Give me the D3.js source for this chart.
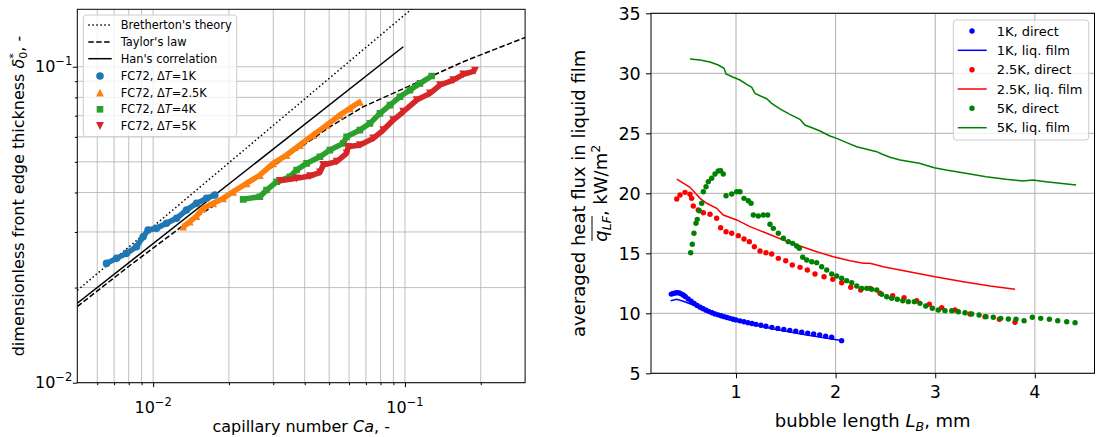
<!DOCTYPE html>
<html>
<head>
<meta charset="utf-8">
<script src="https://cdn.jsdelivr.net/npm/d3@7"></script>
<style>
  body { margin: 0; background: #fff; }
  svg { display: block; font-family: 'DejaVu Sans', sans-serif; }
</style>
</head>
<body>
<svg id="chart" width="1096" height="437"></svg>
<script>
/* global d3 */

// ---- left panel: front edge thickness vs capillary number ----
const leftMajor = [0.01, 0.1];
const leftExp = ['−2', '−1'];
const leftXMinor = [0.006, 0.007, 0.008, 0.009, 0.02, 0.03, 0.04, 0.05, 0.06, 0.07, 0.08, 0.09, 0.2];
const leftYMinor = [0.02, 0.03, 0.04, 0.05, 0.06, 0.07, 0.08, 0.09];

const breCa = [0.005, 0.107];
const breDelta = [0.0196, 0.153];
const taylorCa = [0.005, 0.00808, 0.01277, 0.02017, 0.02735, 0.03713, 0.05035, 0.06829, 0.09268, 0.1257, 0.1704, 0.2614, 0.3];
const taylorDelta = [0.01742, 0.02349, 0.03088, 0.03926, 0.04600, 0.05449, 0.06457, 0.07470, 0.08334, 0.09298, 0.1037, 0.1186, 0.1237];
const hanCa = [0.005, 0.0985];
const hanDelta = [0.01784, 0.1157];

const ca1 = [0.00653, 0.00716, 0.00784, 0.00859, 0.00913, 0.00955, 0.01032, 0.01130, 0.01239, 0.01357, 0.01487, 0.01630, 0.01758];
const d1 = [0.02386, 0.02475, 0.02567, 0.02694, 0.02897, 0.03042, 0.03081, 0.03195, 0.03314, 0.03520, 0.03695, 0.03832, 0.03926];
const ca25 = [0.01316, 0.01399, 0.01487, 0.01580, 0.01732, 0.01897, 0.02079, 0.02350, 0.02654, 0.02998, 0.03388, 0.03827, 0.04323, 0.04887, 0.05518, 0.06047, 0.06626];
const d25 = [0.03117, 0.03233, 0.03370, 0.03564, 0.03696, 0.03833, 0.04022, 0.04276, 0.04543, 0.04946, 0.05255, 0.05651, 0.06079, 0.06537, 0.07033, 0.07386, 0.07747];
const ca4 = [0.02278, 0.02654, 0.02821, 0.03092, 0.03493, 0.03713, 0.04070, 0.04597, 0.05035, 0.05686, 0.05866, 0.06626, 0.07260, 0.07956, 0.08718, 0.09552, 0.1047, 0.1147, 0.1277];
const d4 = [0.03805, 0.03878, 0.04072, 0.04325, 0.04486, 0.04711, 0.04946, 0.05189, 0.05449, 0.05721, 0.06003, 0.06304, 0.06621, 0.07120, 0.07562, 0.08036, 0.08437, 0.08860, 0.09346];
const ca5 = [0.03186, 0.03713, 0.04195, 0.04597, 0.04738, 0.05355, 0.05866, 0.05952, 0.06626, 0.07484, 0.08201, 0.08985, 0.09844, 0.1113, 0.1257, 0.1378, 0.1556, 0.1704, 0.1897];
const d5 = [0.04356, 0.04433, 0.04508, 0.04632, 0.04887, 0.05006, 0.05320, 0.05580, 0.05651, 0.05934, 0.06304, 0.06782, 0.07203, 0.07844, 0.08236, 0.08752, 0.09076, 0.09461, 0.09712];

const leftLabels = ["Bretherton's theory", "Taylor's law", "Han's correlation"];
const leftTemps = ['1K', '2.5K', '4K', '5K'];

// ---- right panel: averaged heat flux vs bubble length ----
const rightXTicks = [1, 2, 3, 4];
const rightYTicks = [5, 10, 15, 20, 25, 30, 35];

const lb1Direct = [0.35, 0.37, 0.39, 0.41, 0.43, 0.45, 0.47, 0.49, 0.52, 0.55, 0.58, 0.61, 0.64, 0.67, 0.70, 0.73, 0.76, 0.79, 0.82, 0.85, 0.88, 0.91, 0.94, 0.97, 1.00, 1.04, 1.08, 1.12, 1.16, 1.20, 1.25, 1.30, 1.36, 1.42, 1.48, 1.54, 1.60, 1.66, 1.72, 1.78, 1.84, 1.90, 1.96, 2.06];
const q1Direct = [11.6, 11.65, 11.7, 11.72, 11.7, 11.62, 11.52, 11.4, 11.2, 11.0, 10.82, 10.65, 10.5, 10.38, 10.26, 10.14, 10.04, 9.95, 9.87, 9.79, 9.72, 9.65, 9.58, 9.51, 9.45, 9.37, 9.3, 9.22, 9.15, 9.08, 9.0, 8.92, 8.83, 8.74, 8.66, 8.58, 8.5, 8.43, 8.35, 8.28, 8.2, 8.1, 8.0, 7.72];
const lb1Film = [0.344, 0.405, 0.471, 0.571, 0.706, 0.839, 1.040, 1.375, 1.710, 2.057];
const q1Film = [11.05, 11.17, 11.01, 10.69, 10.23, 9.78, 9.32, 8.69, 8.19, 7.73];

const lb25Direct = [0.405, 0.438, 0.488, 0.538, 0.555, 0.571, 0.621, 0.672, 0.739, 0.806, 0.846, 0.900, 0.957, 1.023, 1.080, 1.134, 1.184, 1.241, 1.301, 1.358, 1.425, 1.499, 1.565, 1.643, 1.716, 1.793, 1.884, 1.971, 2.061, 2.152, 2.252, 2.345, 2.446, 2.573, 2.687, 2.814, 2.941, 3.065, 3.199, 3.349, 3.500, 3.644, 3.801];
const q25Direct = [19.53, 19.86, 20.08, 19.92, 19.58, 18.94, 18.61, 18.38, 18.25, 17.92, 17.13, 16.80, 16.67, 16.47, 16.19, 15.97, 15.55, 15.19, 15.05, 14.94, 14.58, 14.38, 14.03, 13.83, 13.61, 13.27, 13.05, 12.83, 12.55, 12.17, 11.94, 12.08, 11.67, 11.47, 11.30, 11.05, 10.75, 10.47, 10.28, 9.94, 9.72, 9.50, 9.25];
const lb25Film = [0.405, 0.538, 0.639, 0.706, 0.806, 0.872, 1.007, 1.141, 1.308, 1.475, 1.643, 1.810, 1.977, 2.145, 2.278, 2.345, 2.479, 2.646, 2.998, 3.282, 3.550, 3.801];
const q25Film = [21.19, 20.50, 19.58, 19.17, 18.75, 18.19, 17.78, 17.22, 16.67, 16.11, 15.61, 15.13, 14.72, 14.38, 14.17, 14.17, 13.88, 13.61, 13.05, 12.63, 12.28, 12.00];

const lb5Direct = [0.545, 0.561, 0.578, 0.598, 0.611, 0.632, 0.656, 0.672, 0.699, 0.722, 0.756, 0.789, 0.822, 0.846, 0.872, 0.900, 0.957, 1.007, 1.040, 1.080, 1.123, 1.151, 1.174, 1.224, 1.274, 1.318, 1.341, 1.375, 1.425, 1.475, 1.525, 1.569, 1.609, 1.636, 1.670, 1.710, 1.760, 1.810, 1.860, 1.911, 1.961, 2.011, 2.061, 2.111, 2.162, 2.212, 2.262, 2.312, 2.362, 2.413, 2.463, 2.513, 2.563, 2.619, 2.674, 2.730, 2.790, 2.847, 2.905, 2.971, 3.031, 3.098, 3.166, 3.232, 3.299, 3.366, 3.440, 3.510, 3.583, 3.658, 3.734, 3.811, 3.892, 3.975, 4.059, 4.146, 4.230, 4.320, 4.404];
const q5Direct = [15.05, 15.75, 16.67, 17.50, 17.83, 18.55, 19.17, 20.13, 20.55, 20.97, 21.25, 21.61, 21.86, 21.88, 21.61, 19.80, 19.94, 20.13, 20.13, 19.58, 19.38, 19.17, 18.19, 18.11, 18.19, 18.19, 17.42, 17.08, 16.67, 16.25, 15.97, 15.83, 15.61, 15.42, 14.67, 14.44, 14.30, 14.22, 13.88, 13.61, 13.27, 13.11, 12.92, 12.72, 12.55, 12.28, 12.08, 12.08, 12.00, 11.94, 11.58, 11.38, 11.25, 11.17, 11.05, 10.97, 10.97, 10.83, 10.61, 10.42, 10.28, 10.22, 10.22, 10.13, 10.05, 9.94, 9.86, 9.72, 9.67, 9.58, 9.53, 9.50, 9.38, 9.67, 9.58, 9.50, 9.38, 9.30, 9.22];
const lb5Film = [0.538, 0.639, 0.739, 0.822, 0.880, 0.900, 0.973, 1.040, 1.107, 1.158, 1.191, 1.241, 1.308, 1.358, 1.441, 1.541, 1.642, 1.692, 1.776, 1.843, 1.943, 2.011, 2.111, 2.212, 2.312, 2.413, 2.463, 2.546, 2.647, 2.840, 2.991, 3.108, 3.276, 3.510, 3.711, 3.879, 3.979, 4.112, 4.414];
const q5Film = [31.19, 31.11, 30.94, 30.69, 30.42, 29.94, 29.67, 29.44, 29.08, 28.83, 28.33, 28.13, 27.88, 27.50, 27.03, 26.58, 26.17, 25.69, 25.42, 25.19, 24.78, 24.58, 24.22, 23.88, 23.67, 23.47, 23.28, 23.00, 22.78, 22.50, 22.13, 21.94, 21.72, 21.38, 21.17, 21.03, 21.11, 20.97, 20.69];

const rightLabels = ['1K, direct', '1K, liq. film', '2.5K, direct', '2.5K, liq. film', '5K, direct', '5K, liq. film'];

const zip = (a, b) => a.map((v, i) => [v, b[i]]);
const svg = d3.select('#chart');
const gridColor = '#b0b0b0';

// draws one matplotlib style marker as a path string
const markerPath = (m, cx, cy, r) => {
  if (m === '^') return `M${cx},${cy - r}L${cx + r},${cy + r}L${cx - r},${cy + r}Z`;
  if (m === 'v') return `M${cx},${cy + r}L${cx + r},${cy - r}L${cx - r},${cy - r}Z`;
  if (m === 's') {
    const h = r * 0.85;
    return `M${cx - h},${cy - h}h${2 * h}v${2 * h}h${-2 * h}Z`;
  }
  return `M${cx - r},${cy}a${r},${r} 0 1,0 ${2 * r},0a${r},${r} 0 1,0 ${-2 * r},0`;
};

/* +++ left panel +++ */
const L = { left: 77.3, right: 525.1, top: 9.3, bottom: 382.7 };
const xL = d3.scaleLog().domain([0.005, 0.3]).range([L.left, L.right]);
const yL = d3.scaleLog().domain([0.01, 0.152]).range([L.bottom, L.top]);

svg.append('clipPath').attr('id', 'clipL').append('rect')
  .attr('x', L.left).attr('y', L.top)
  .attr('width', L.right - L.left).attr('height', L.bottom - L.top);

const gridL = svg.append('g').attr('stroke', gridColor).attr('stroke-width', 0.8);
gridL.selectAll('.vx').data(leftMajor.concat(leftXMinor)).enter().append('line')
  .attr('x1', d => xL(d)).attr('x2', d => xL(d))
  .attr('y1', L.top).attr('y2', L.bottom);
gridL.selectAll('.hy').data(leftMajor.concat(leftYMinor)).enter().append('line')
  .attr('y1', d => yL(d)).attr('y2', d => yL(d))
  .attr('x1', L.left).attr('x2', L.right);

const plotL = svg.append('g').attr('clip-path', 'url(#clipL)');
const lineL = d3.line().x(d => xL(d[0])).y(d => yL(d[1]));

const theory = [
  { data: zip(breCa, breDelta), dash: '1.5,2.5' },
  { data: zip(taylorCa, taylorDelta), dash: '5.5,2.4' },
  { data: zip(hanCa, hanDelta), dash: null },
];

const leftSeries = [
  { data: zip(ca1, d1), color: '#1f77b4', marker: 'o', r: 3.8 },
  { data: zip(ca25, d25), color: '#ff7f0e', marker: '^', r: 3.9 },
  { data: zip(ca4, d4), color: '#2ca02c', marker: 's', r: 3.9 },
  { data: zip(ca5, d5), color: '#d62728', marker: 'v', r: 3.9 },
];

theory.forEach((t) => {
  plotL.append('path')
    .attr('d', lineL(t.data))
    .attr('fill', 'none')
    .attr('stroke', '#000')
    .attr('stroke-width', 1.5)
    .attr('stroke-dasharray', t.dash);
});

leftSeries.forEach((s) => {
  plotL.append('path')
    .attr('d', lineL(s.data))
    .attr('fill', 'none')
    .attr('stroke', s.color)
    .attr('stroke-width', 5.5)
    .attr('stroke-linejoin', 'round');
  plotL.selectAll(null).data(s.data).enter().append('path')
    .attr('d', d => markerPath(s.marker, xL(d[0]), yL(d[1]), s.r))
    .attr('fill', s.color);
});

svg.append('rect')
  .attr('x', L.left).attr('y', L.top)
  .attr('width', L.right - L.left).attr('height', L.bottom - L.top)
  .attr('fill', 'none').attr('stroke', '#000').attr('stroke-width', 1);

// major and minor ticks
const tickAxis = (g, axis, values, size) => g.call(axis.tickValues(values).tickSize(size).tickFormat(''))
  .call(a => a.select('.domain').remove());

tickAxis(svg.append('g').attr('transform', `translate(0,${L.bottom})`), d3.axisBottom(xL), leftMajor, 4.5);
tickAxis(svg.append('g').attr('transform', `translate(0,${L.bottom})`), d3.axisBottom(xL), leftXMinor, 2.5);
tickAxis(svg.append('g').attr('transform', `translate(${L.left},0)`), d3.axisLeft(yL), leftMajor, 4.5);
tickAxis(svg.append('g').attr('transform', `translate(${L.left},0)`), d3.axisLeft(yL), leftYMinor, 2.5);

// power-of-ten labels
leftMajor.forEach((v, i) => {
  const tx = svg.append('text')
    .attr('x', xL(v)).attr('y', 413)
    .attr('text-anchor', 'middle').attr('font-size', 16);
  tx.append('tspan').text('10');
  tx.append('tspan').attr('dy', -7).attr('font-size', 11.5).text(leftExp[i]);

  const ty = svg.append('text')
    .attr('x', L.left - 5).attr('y', yL(v) + 5.5)
    .attr('text-anchor', 'end').attr('font-size', 16);
  ty.append('tspan').text('10');
  ty.append('tspan').attr('dy', -7).attr('font-size', 11.5).text(leftExp[i]);
});

const xlabL = svg.append('text')
  .attr('x', (L.left + L.right) / 2).attr('y', 432)
  .attr('text-anchor', 'middle').attr('font-size', 16);
xlabL.append('tspan').text('capillary number ');
xlabL.append('tspan').attr('font-style', 'italic').text('Ca');
xlabL.append('tspan').text(', -');

const ylabL = svg.append('text')
  .attr('transform', `translate(24,${(L.top + L.bottom) / 2}) rotate(-90)`)
  .attr('text-anchor', 'middle').attr('font-size', 16);
ylabL.append('tspan').text('dimensionless front edge thickness ');
ylabL.append('tspan').attr('font-style', 'italic').text('δ');
ylabL.append('tspan').attr('dy', -7).attr('font-size', 11).text('*');
ylabL.append('tspan').attr('dx', -5.5).attr('dy', 10).attr('font-size', 11).text('0');
ylabL.append('tspan').attr('dy', -3).text(', -');

// legend of left panel
const legL = svg.append('g');
legL.append('rect')
  .attr('x', 83.3).attr('y', 15).attr('width', 153.4).attr('height', 121.7)
  .attr('rx', 3).attr('fill', '#fff').attr('fill-opacity', 0.8)
  .attr('stroke', '#cccccc').attr('stroke-width', 1);

const legRowsL = [25, 42, 58.7, 76, 92.7, 109.3, 126];
theory.forEach((t, i) => {
  legL.append('line')
    .attr('x1', 88.3).attr('x2', 111.7)
    .attr('y1', legRowsL[i]).attr('y2', legRowsL[i])
    .attr('stroke', '#000').attr('stroke-width', 1.5)
    .attr('stroke-dasharray', t.dash);
  legL.append('text')
    .attr('x', 120.7).attr('y', legRowsL[i] + 4)
    .attr('font-size', 11.4).text(leftLabels[i]);
});
leftSeries.forEach((s, i) => {
  const yy = legRowsL[i + 3];
  legL.append('path').attr('d', markerPath(s.marker, 100, yy, s.r)).attr('fill', s.color);
  const t = legL.append('text').attr('x', 120.7).attr('y', yy + 4).attr('font-size', 11.4);
  t.append('tspan').text('FC72, Δ');
  t.append('tspan').attr('font-style', 'italic').text('T');
  t.append('tspan').text(`=${leftTemps[i]}`);
});
/* --- left panel --- */

/* +++ right panel +++ */
const R = { left: 651, right: 1094.5, top: 13.3, bottom: 373.3 };
const xR = d3.scaleLinear().domain([0.1466, 4.599]).range([R.left, R.right]);
const yR = d3.scaleLinear().domain([5, 35]).range([R.bottom, R.top]);

svg.append('clipPath').attr('id', 'clipR').append('rect')
  .attr('x', R.left).attr('y', R.top)
  .attr('width', R.right - R.left).attr('height', R.bottom - R.top);

const gridR = svg.append('g').attr('stroke', gridColor).attr('stroke-width', 1);
gridR.selectAll('.vx').data(rightXTicks).enter().append('line')
  .attr('x1', d => xR(d)).attr('x2', d => xR(d))
  .attr('y1', R.top).attr('y2', R.bottom);
gridR.selectAll('.hy').data(rightYTicks).enter().append('line')
  .attr('y1', d => yR(d)).attr('y2', d => yR(d))
  .attr('x1', R.left).attr('x2', R.right);

const plotR = svg.append('g').attr('clip-path', 'url(#clipR)');
const lineR = d3.line().x(d => xR(d[0])).y(d => yR(d[1]));

const rightSeries = [
  { data: zip(lb1Direct, q1Direct), color: '#0000ff', dots: true },
  { data: zip(lb1Film, q1Film), color: '#0000ff', dots: false },
  { data: zip(lb25Direct, q25Direct), color: '#ff0000', dots: true },
  { data: zip(lb25Film, q25Film), color: '#ff0000', dots: false },
  { data: zip(lb5Direct, q5Direct), color: '#008000', dots: true },
  { data: zip(lb5Film, q5Film), color: '#008000', dots: false },
];

rightSeries.forEach((s) => {
  if (s.dots) {
    plotR.selectAll(null).data(s.data).enter().append('circle')
      .attr('cx', d => xR(d[0])).attr('cy', d => yR(d[1]))
      .attr('r', 2.7).attr('fill', s.color);
  } else {
    plotR.append('path')
      .attr('d', lineR(s.data))
      .attr('fill', 'none').attr('stroke', s.color)
      .attr('stroke-width', 1.5);
  }
});

svg.append('rect')
  .attr('x', R.left).attr('y', R.top)
  .attr('width', R.right - R.left).attr('height', R.bottom - R.top)
  .attr('fill', 'none').attr('stroke', '#000').attr('stroke-width', 1);

tickAxis(svg.append('g').attr('transform', `translate(0,${R.bottom})`), d3.axisBottom(xR), rightXTicks, 5);
tickAxis(svg.append('g').attr('transform', `translate(${R.left},0)`), d3.axisLeft(yR), rightYTicks, 5);

svg.selectAll('.rxt').data(rightXTicks).enter().append('text')
  .attr('x', d => xR(d)).attr('y', 398)
  .attr('text-anchor', 'middle').attr('font-size', 17.5)
  .text(d => d);
svg.selectAll('.ryt').data(rightYTicks).enter().append('text')
  .attr('x', R.left - 10.3).attr('y', d => yR(d) + 6.3)
  .attr('text-anchor', 'end').attr('font-size', 17.5)
  .text(d => d);

const xlabR = svg.append('text')
  .attr('x', (R.left + R.right) / 2).attr('y', 427)
  .attr('text-anchor', 'middle').attr('font-size', 18);
xlabR.append('tspan').text('bubble length ');
xlabR.append('tspan').attr('font-style', 'italic').text('L');
xlabR.append('tspan').attr('font-style', 'italic').attr('font-size', 12.6).attr('dy', 4).text('B');
xlabR.append('tspan').attr('dy', -4).text(', mm');

const ylabR = svg.append('g')
  .attr('transform', `translate(607,${(R.top + R.bottom) / 2}) rotate(-90)`)
  .attr('font-size', 18);
ylabR.append('text').attr('y', -21.6).attr('text-anchor', 'middle')
  .text('averaged heat flux in liquid film');
const qLab = ylabR.append('text').attr('text-anchor', 'middle');
qLab.append('tspan').attr('font-style', 'italic').text('q');
qLab.append('tspan').attr('font-style', 'italic').attr('font-size', 12.6).attr('dy', 4).text('LF');
qLab.append('tspan').attr('dy', -4).text(', kW/m');
qLab.append('tspan').attr('dy', -7).attr('font-size', 12.6).text('2');
// overline across q and its subscript
const qStart = qLab.node().getExtentOfChar(0);
const qEnd = qLab.node().getExtentOfChar(2);
ylabR.append('line')
  .attr('x1', qStart.x + 1).attr('x2', qEnd.x + qEnd.width)
  .attr('y1', -15).attr('y2', -15)
  .attr('stroke', '#000').attr('stroke-width', 1);

// legend of right panel
const legR = svg.append('g');
legR.append('rect')
  .attr('x', 953.3).attr('y', 20).attr('width', 135.4).attr('height', 120)
  .attr('rx', 3).attr('fill', '#fff').attr('fill-opacity', 0.8)
  .attr('stroke', '#cccccc').attr('stroke-width', 1);
const legRowsR = [31, 50.3, 69.7, 89, 108.3, 127.7];
rightSeries.forEach((s, i) => {
  const yy = legRowsR[i];
  if (s.dots) {
    legR.append('circle').attr('cx', 972).attr('cy', yy).attr('r', 2.7).attr('fill', s.color);
  } else {
    legR.append('line')
      .attr('x1', 957.7).attr('x2', 986.7).attr('y1', yy).attr('y2', yy)
      .attr('stroke', s.color).attr('stroke-width', 1.5);
  }
  legR.append('text')
    .attr('x', 996.7).attr('y', yy + 4.7)
    .attr('font-size', 13).text(rightLabels[i]);
});
/* --- right panel --- */
</script>
</body>
</html>
